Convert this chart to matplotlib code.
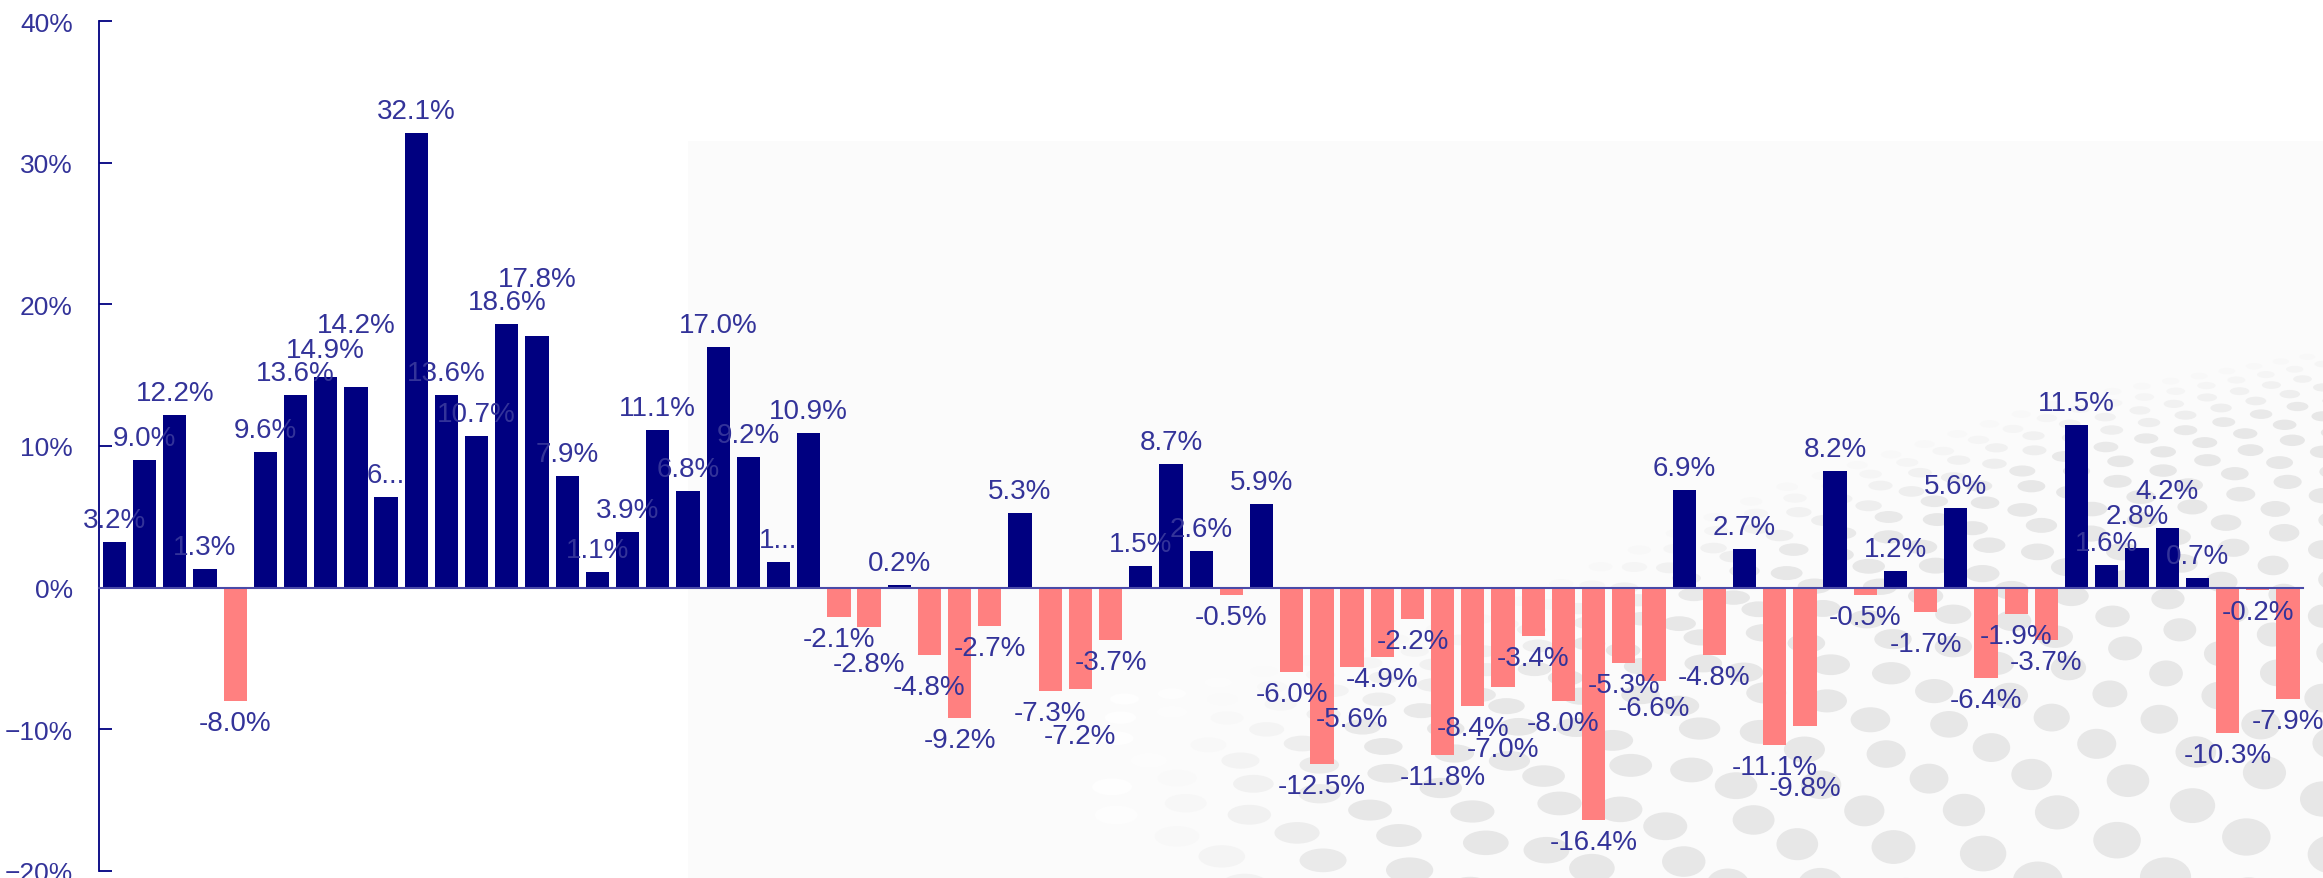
import numpy as np
import matplotlib
matplotlib.use("Agg")
import matplotlib.pyplot as plt
import matplotlib.ticker as mticker
from matplotlib import font_manager
from matplotlib.patches import Ellipse, Rectangle

# ---------------- data ----------------
values = [3.2, 9.0, 12.2, 1.3, -8.0, 9.6, 13.6, 14.9, 14.2, 6.4,
          32.1, 13.6, 10.7, 18.6, 17.8, 7.9, 1.1, 3.9, 11.1, 6.8,
          17.0, 9.2, 1.8, 10.9, -2.1, -2.8, 0.2, -4.8, -9.2, -2.7,
          5.3, -7.3, -7.2, -3.7, 1.5, 8.7, 2.6, -0.5, 5.9, -6.0,
          -12.5, -5.6, -4.9, -2.2, -11.8, -8.4, -7.0, -3.4, -8.0, -16.4,
          -5.3, -6.6, 6.9, -4.8, 2.7, -11.1, -9.8, 8.2, -0.5, 1.2,
          -1.7, 5.6, -6.4, -1.9, -3.7, 11.5, 1.6, 2.8, 4.2, 0.7,
          -10.3, -0.2, -7.9]
truncated = [9, 22]          # labels shown truncated ("6...", "1...")
yticks = [-20, -10, 0, 10, 20, 30, 40]

labels = []
for i, v in enumerate(values):
    s = f"{v:.1f}%"
    if i in truncated:
        s = s[0] + "..."
    labels.append(s)

# ---------------- style ----------------
W, H = 2323, 879
POS = "#000080"
NEG = "#FF8080"
TXT = "#333399"
FONT = "Liberation Sans"
plt.rcParams["font.family"] = [FONT, "DejaVu Sans"]

names = {f.name for f in font_manager.fontManager.ttflist}
if "Liberation Sans Narrow" in names:
    TICKFONT, TICKSIZE = "Liberation Sans Narrow", 20.5
else:
    TICKFONT, TICKSIZE = FONT, 19

fig = plt.figure(figsize=(W / 100, H / 100), dpi=100)
fig.patch.set_facecolor("white")

# ---------- decorative background (light panel + dotted globe) ----------
bg = fig.add_axes([0, 0, 1, 1], zorder=0)
bg.set_xlim(0, W)
bg.set_ylim(H, 0)
bg.axis("off")
bg.add_patch(Rectangle((688, 142), W - 688, H - 142, color="#FBFBFB", lw=0))

bx = np.array([1150, 1480, 1780, 2070, 2323])
by = np.array([700, 620, 490, 400, 355])
d = 0.0
row = 0
while d < 600:
    dy = 10 + 0.11 * d
    x = W + 10 - (row % 2) * 10
    while x > 700:
        stretch = 1 + (W - x) / 1400
        ytop = np.interp(x, bx, by)
        y = ytop + d * stretch
        h_e = 0.6 * dy * stretch
        ratio = 1.3 + 1.3 * (1 - np.clip(d / 250, 0, 1))
        w_e = h_e * ratio
        dx = w_e / 0.6
        if y < H + 30:
            fade = np.clip((x - 1100) / 260, 0, 1) * np.clip(0.3 + d / 80, 0, 1)
            if fade > 0.02:
                c = 1 - 0.095 * fade
                bg.add_patch(Ellipse((x, y), w_e, h_e, color=(c, c, c), lw=0))
        x -= dx
    d += dy
    row += 1

# ---------------- main chart ----------------
ax = fig.add_axes([99.3 / W, 7.4 / H, (2303 - 99.3) / W, (871.6 - 22.4) / H], zorder=1)
ax.patch.set_alpha(0)

x = np.arange(len(values))
colors = [POS if v >= 0 else NEG for v in values]
bars = ax.bar(x, values, width=0.77, color=colors, zorder=2, linewidth=0)

ax.set_xlim(-0.5, len(values) - 0.5)
ax.set_ylim(-20, 40)
ax.set_yticks(yticks)
ax.yaxis.set_major_formatter(mticker.PercentFormatter(decimals=0))
ax.set_xticks([])

for s in ["top", "right"]:
    ax.spines[s].set_visible(False)
ax.spines["left"].set_color(POS)
ax.spines["left"].set_linewidth(1.3)
ax.spines["bottom"].set_position(("data", 0))
ax.spines["bottom"].set_color("#4a4aa8")
ax.spines["bottom"].set_linewidth(1.5)
ax.spines["bottom"].set_zorder(2.5)

ax.tick_params(axis="y", direction="in", length=9, width=1.3, color=POS,
               labelcolor=TXT, labelsize=TICKSIZE, pad=19)
for t in ax.get_yticklabels():
    t.set_family([TICKFONT, FONT, "DejaVu Sans"])

# value labels with simple greedy overlap avoidance
fig.canvas.draw()
renderer = fig.canvas.get_renderer()
placed = []
BASE = 22
for i, (v, lab) in enumerate(zip(values, labels)):
    sign = 1 if v >= 0 else -1
    off = BASE
    t = ax.annotate(lab, (x[i], v), xytext=(0, sign * off), textcoords="offset pixels",
                    ha="center", va="center", color=TXT, fontsize=20,
                    family=[FONT, "DejaVu Sans"], zorder=3)
    for _ in range(8):
        bb = t.get_window_extent(renderer)
        hit = False
        for pb in placed[-3:]:
            if (bb.x0 < pb.x1 - 6 and bb.x1 > pb.x0 + 6 and
                    bb.y0 < pb.y1 - 4 and bb.y1 > pb.y0 + 4):
                hit = True
                break
        if not hit:
            break
        off += 5
        t.set_position((0, sign * off))
    placed.append(t.get_window_extent(renderer))

fig.savefig("out.png", dpi=100, facecolor="white")
